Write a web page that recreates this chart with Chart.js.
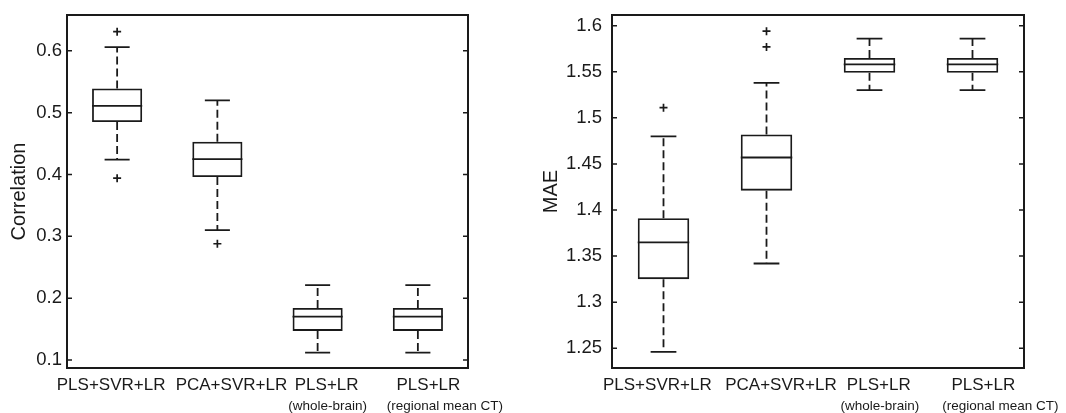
<!DOCTYPE html>
<html>
<head>
<meta charset="utf-8">
<script src="https://cdn.jsdelivr.net/npm/chart.js@4.4.1/dist/chart.umd.min.js"></script>
<style>
  html, body { margin: 0; padding: 0; background: #fff; }
  #wrap { position: relative; width: 1066px; height: 413px; }
  #corrChart { position: absolute; left: 0; top: 0; }
  #maeChart { position: absolute; left: 540px; top: 0; }
</style>
</head>
<body>
<div id="wrap">
  <canvas id="corrChart" width="540" height="413"></canvas>
  <canvas id="maeChart" width="526" height="413"></canvas>
</div>
<script>
const methods = ['PLS+SVR+LR', 'PCA+SVR+LR', 'PLS+LR', 'PLS+LR'];
const methodNotes = ['', '', '(whole-brain)', '(regional mean CT)'];

// correlation boxes
const corrLow = [0.424, 0.310, 0.112, 0.112];
const corrQ1 = [0.485, 0.396, 0.147, 0.147];
const corrMedian = [0.511, 0.425, 0.170, 0.170];
const corrQ3 = [0.539, 0.453, 0.184, 0.184];
const corrHigh = [0.606, 0.520, 0.221, 0.221];
const corrOutliers = [[0.631, 0.394], [0.288], [], []];

// MAE boxes
const maeLow = [1.246, 1.342, 1.530, 1.530];
const maeQ1 = [1.325, 1.421, 1.549, 1.549];
const maeMedian = [1.365, 1.457, 1.558, 1.558];
const maeQ3 = [1.391, 1.482, 1.565, 1.565];
const maeHigh = [1.480, 1.538, 1.586, 1.586];
const maeOutliers = [[1.511], [1.594, 1.577], [], []];

const INK = '#1a1a1a';
const FONT = "'Liberation Sans', Arial, sans-serif";

// unique category keys (two methods share the same name)
const categoryKeys = methods.map((m, i) => methodNotes[i] ? m + ' ' + methodNotes[i] : m);

// the labels in the source are typed text, a bit off the box centres
const labelShift = [-0.06, 0.14, 0.09, 0.105];
const noteShift = [0, 0, 0.1, 0.27];

// whiskers, medians, frame, inside ticks and two-line category labels
const boxExtras = {
    id: 'boxExtras',
    afterDatasetsDraw(chart, args, opts) {
        const { ctx, chartArea: a, scales: { x, y } } = chart;
        ctx.save();
        ctx.strokeStyle = INK;
        ctx.lineWidth = 1.8;

        opts.median.forEach((m, i) => {
            const cx = x.getPixelForValue(i);
            const boxL = x.getPixelForValue(i - 0.25), boxR = x.getPixelForValue(i + 0.25);
            const capL = x.getPixelForValue(i - 0.125), capR = x.getPixelForValue(i + 0.125);

            ctx.setLineDash([8, 4]);
            ctx.beginPath();
            ctx.moveTo(cx, y.getPixelForValue(opts.q3[i]));
            ctx.lineTo(cx, y.getPixelForValue(opts.high[i]));
            ctx.moveTo(cx, y.getPixelForValue(opts.q1[i]));
            ctx.lineTo(cx, y.getPixelForValue(opts.low[i]));
            ctx.stroke();

            ctx.setLineDash([]);
            ctx.beginPath();
            [opts.high[i], opts.low[i]].forEach(v => {
                const py = y.getPixelForValue(v);
                ctx.moveTo(capL, py);
                ctx.lineTo(capR, py);
            });
            const my = y.getPixelForValue(m);
            ctx.moveTo(boxL, my);
            ctx.lineTo(boxR, my);
            ctx.stroke();
        });

        // frame with tick marks pointing inwards
        ctx.lineWidth = 2;
        ctx.strokeRect(a.left, a.top, a.right - a.left, a.bottom - a.top);
        ctx.lineWidth = 1.5;
        ctx.beginPath();
        y.ticks.forEach(t => {
            const py = y.getPixelForValue(t.value);
            ctx.moveTo(a.left, py);
            ctx.lineTo(a.left + 5, py);
            ctx.moveTo(a.right, py);
            ctx.lineTo(a.right - 5, py);
        });
        ctx.stroke();

        // category labels
        ctx.fillStyle = INK;
        ctx.textAlign = 'center';
        ctx.textBaseline = 'middle';
        methods.forEach((name, i) => {
            ctx.font = '17px ' + FONT;
            ctx.fillText(name, x.getPixelForValue(i + labelShift[i]), a.bottom + 17);
            if (methodNotes[i]) {
                ctx.font = '13.5px ' + FONT;
                ctx.fillText(methodNotes[i], x.getPixelForValue(i + noteShift[i]), a.bottom + 38);
            }
        });
        ctx.restore();
    }
};

function buildBoxChart(canvasId, cfg) {
    const outlierPoints = [];
    cfg.outliers.forEach((list, i) => list.forEach(v => outlierPoints.push({ x: categoryKeys[i], y: v })));

    return new Chart(document.getElementById(canvasId), {
        type: 'bar',
        data: {
            labels: categoryKeys,
            datasets: [
                {
                    data: cfg.q1.map((v, i) => [v, cfg.q3[i]]),
                    backgroundColor: 'rgba(255,255,255,0)',
                    borderColor: INK,
                    borderWidth: 1.8,
                    borderSkipped: false,
                    barPercentage: 0.5,
                    categoryPercentage: 1
                },
                {
                    type: 'scatter',
                    data: outlierPoints,
                    pointStyle: 'cross',
                    radius: 4,
                    borderWidth: 1.7,
                    borderColor: INK
                }
            ]
        },
        options: {
            responsive: false,
            animation: false,
            layout: { padding: cfg.padding },
            plugins: {
                legend: { display: false },
                tooltip: { enabled: false },
                boxExtras: {
                    low: cfg.low, q1: cfg.q1, median: cfg.median, q3: cfg.q3, high: cfg.high
                }
            },
            scales: {
                x: {
                    type: 'category',
                    grid: { display: false, drawTicks: false },
                    border: { display: false },
                    ticks: { display: false },
                    afterFit: s => { s.height = 45; }
                },
                y: {
                    min: cfg.min,
                    max: cfg.max,
                    grid: { display: false, drawTicks: false },
                    border: { display: false },
                    ticks: {
                        stepSize: cfg.step,
                        includeBounds: false,
                        padding: cfg.tickPad,
                        color: INK,
                        font: { family: FONT, size: 18.5 },
                        callback: v => String(+v.toFixed(2))
                    },
                    title: {
                        display: true,
                        text: cfg.title,
                        color: INK,
                        font: { family: FONT, size: 20, lineHeight: 1 },
                        padding: { top: cfg.titlePad, bottom: 0 }
                    },
                    afterFit: s => {
                        s.width = cfg.axisWidth;
                        s.paddingTop = 0;
                        s.paddingBottom = 0;
                    }
                }
            }
        },
        plugins: [boxExtras]
    });
}

buildBoxChart('corrChart', {
    low: corrLow, q1: corrQ1, median: corrMedian, q3: corrQ3, high: corrHigh,
    outliers: corrOutliers,
    min: 0.087, max: 0.658, step: 0.1,
    title: 'Correlation', titlePad: 9.5, tickPad: 5,
    axisWidth: 67,
    padding: { left: 0, top: 15, right: 72, bottom: 0 }
});

buildBoxChart('maeChart', {
    low: maeLow, q1: maeQ1, median: maeMedian, q3: maeQ3, high: maeHigh,
    outliers: maeOutliers,
    min: 1.2286, max: 1.6116, step: 0.05,
    title: 'MAE', titlePad: 1, tickPad: 10,
    axisWidth: 72,
    padding: { left: 0, top: 15, right: 42, bottom: 0 }
});
</script>
</body>
</html>
